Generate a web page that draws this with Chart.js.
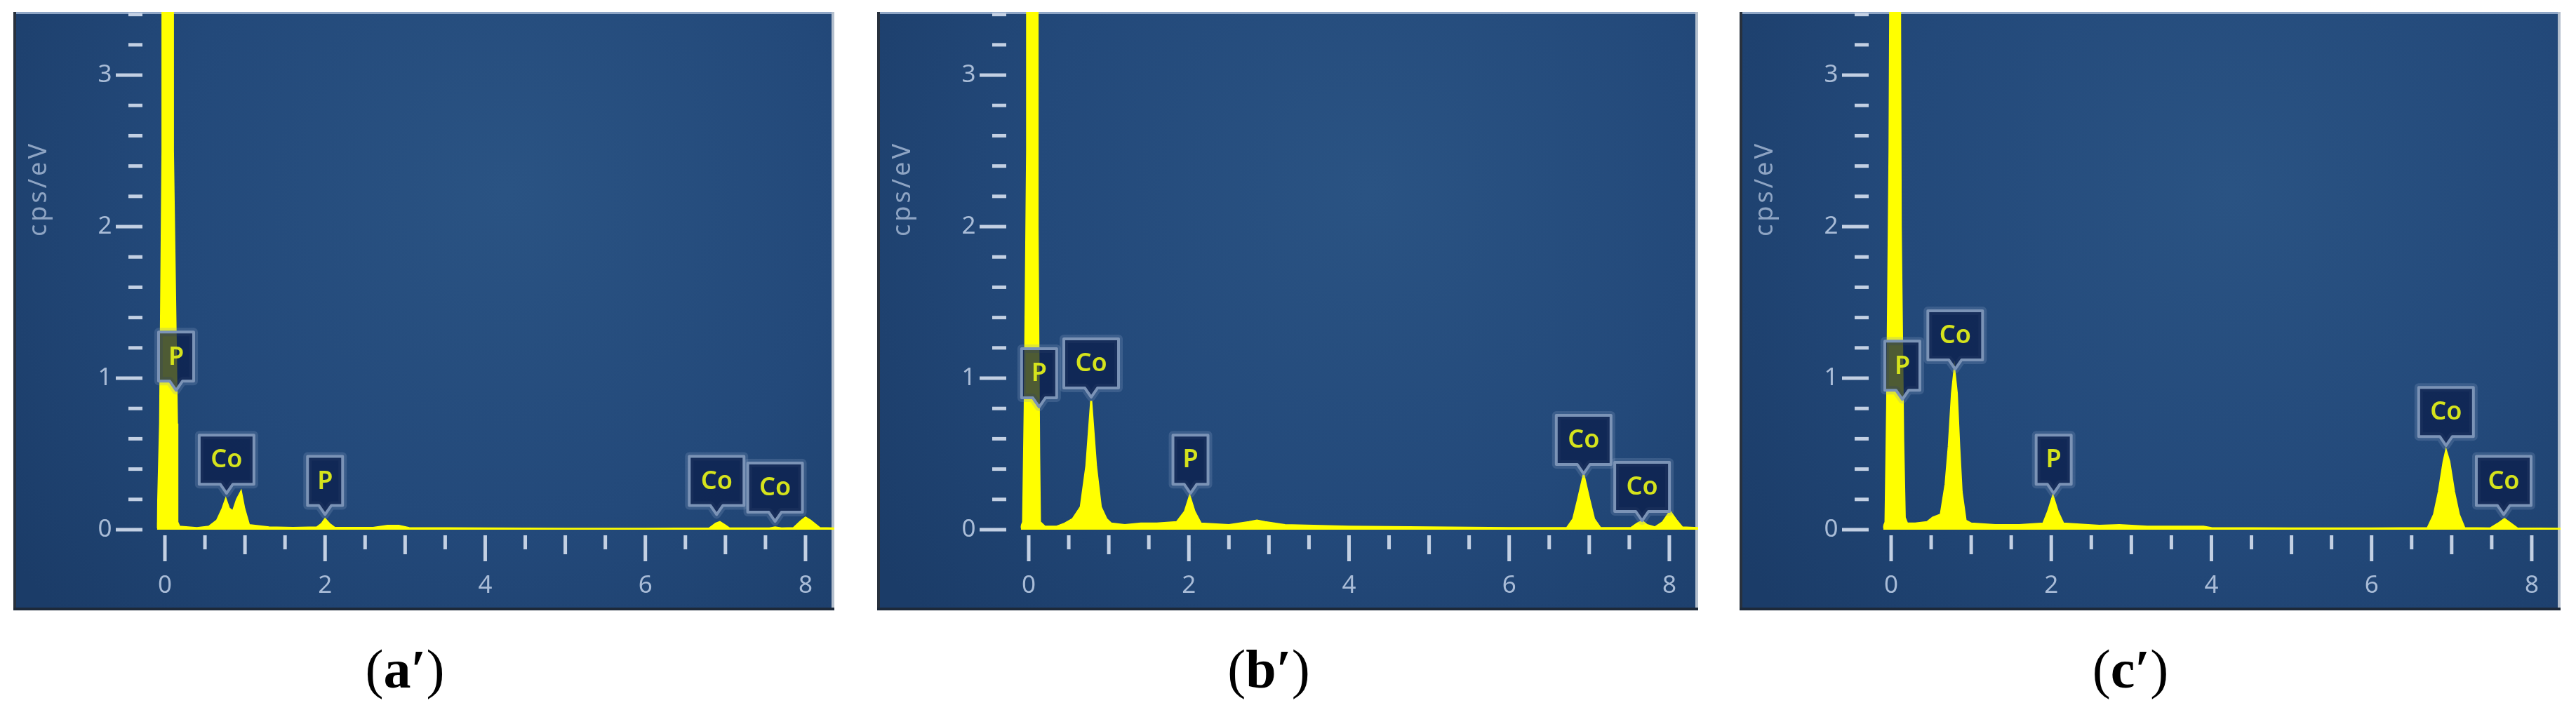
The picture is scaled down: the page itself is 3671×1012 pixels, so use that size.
<!DOCTYPE html>
<html><head><meta charset="utf-8">
<script src="https://cdn.jsdelivr.net/npm/chart.js@4.4.1/dist/chart.umd.min.js"></script>
<style>
html,body{margin:0;padding:0;background:#fff;width:3671px;height:1012px;overflow:hidden;}
.panel{position:absolute;top:17px;width:1170px;height:853px;}
.cap{position:absolute;top:915px;width:300px;text-align:center;font-family:"Liberation Serif","Times New Roman",serif;font-size:78px;line-height:1;color:#000;}
</style></head><body>
<div class="panel" style="left:19px"><canvas id="ca" width="1170" height="853"></canvas></div>
<div class="panel" style="left:1250px"><canvas id="cb" width="1170" height="853"></canvas></div>
<div class="panel" style="left:2479px"><canvas id="cc" width="1170" height="853"></canvas></div>
<div class="cap" id="capA" style="left:427px"></div>
<div class="cap" id="capB" style="left:1658px"></div>
<div class="cap" id="capC" style="left:2886px"></div>
<script>
// ---- data ----
const xTickLabels = [0, 2, 4, 6, 8];
const yTickLabels = [0, 1, 2, 3];
const xRange = [-0.1, 8.36];
const yRange = [0, 3.417];
const yTitle = 'cps/eV';
const captionLetters = ['a', 'b', 'c'];

// [energy keV, cps/eV]
const spectrumA = [[-0.10,0.01],[-0.09,0.05],[-0.06,0.7],[-0.03,2.5],[-0.03,3.6],[0.10,3.6],[0.10,2.5],[0.15,0.7],[0.155,0.05],[0.18,0.02],
 [0.40,0.01],[0.55,0.02],[0.65,0.06],[0.72,0.14],[0.76,0.20],[0.80,0.14],[0.85,0.12],[0.90,0.20],[0.95,0.25],[0.99,0.14],[1.05,0.03],
 [1.30,0.015],[1.60,0.012],[1.90,0.015],[1.96,0.04],[2.00,0.07],[2.05,0.04],[2.12,0.012],
 [2.60,0.012],[2.78,0.025],[2.92,0.025],[3.05,0.01],
 [4.00,0.008],[5.00,0.006],[6.00,0.006],[6.80,0.008],[6.88,0.04],[6.93,0.05],[6.99,0.03],[7.05,0.008],
 [7.55,0.008],[7.62,0.015],[7.70,0.008],[7.85,0.01],[7.95,0.06],[8.00,0.08],[8.06,0.06],[8.18,0.01],[8.36,0.008]];
const spectrumB = [[-0.10,0.01],[-0.07,0.05],[-0.05,0.8],[-0.02,2.5],[-0.02,3.6],[0.11,3.6],[0.11,2.0],[0.13,0.5],[0.14,0.05],[0.20,0.02],
 [0.35,0.02],[0.45,0.04],[0.55,0.07],[0.65,0.15],[0.72,0.42],[0.78,0.85],[0.84,0.42],[0.90,0.15],[0.97,0.07],[1.03,0.04],
 [1.20,0.03],[1.40,0.04],[1.60,0.04],[1.85,0.05],[1.95,0.12],[2.01,0.22],[2.07,0.12],[2.15,0.04],
 [2.50,0.03],[2.75,0.05],[2.85,0.06],[2.95,0.05],[3.20,0.03],[4.00,0.02],[5.00,0.015],[6.00,0.01],
 [6.72,0.01],[6.80,0.07],[6.86,0.20],[6.93,0.36],[7.00,0.20],[7.06,0.07],[7.14,0.01],
 [7.52,0.01],[7.60,0.04],[7.66,0.055],[7.72,0.03],[7.82,0.015],[7.92,0.05],[8.01,0.12],[8.09,0.06],[8.16,0.015],[8.36,0.01]];
const spectrumC = [[-0.10,0.01],[-0.07,0.05],[-0.05,0.8],[-0.02,2.5],[-0.01,3.6],[0.11,3.6],[0.12,2.0],[0.15,0.6],[0.17,0.08],[0.20,0.04],
 [0.30,0.04],[0.45,0.05],[0.52,0.08],[0.62,0.10],[0.68,0.30],[0.72,0.55],[0.76,0.90],[0.79,1.05],[0.82,0.90],[0.85,0.55],[0.88,0.25],[0.93,0.06],[1.00,0.04],
 [1.30,0.03],[1.60,0.03],[1.90,0.04],[1.96,0.12],[2.02,0.22],[2.08,0.12],[2.15,0.04],
 [2.60,0.025],[2.85,0.03],[3.20,0.02],[3.90,0.02],[4.00,0.01],[5.00,0.008],[6.00,0.008],
 [6.70,0.01],[6.78,0.10],[6.84,0.25],[6.90,0.45],[6.93,0.52],[6.97,0.45],[7.03,0.25],[7.09,0.10],[7.16,0.01],
 [7.48,0.008],[7.58,0.04],[7.66,0.07],[7.74,0.04],[7.82,0.008],[8.36,0.006]];

// peak markers: [element, energy keV, cps/eV at pointer tip]
const peaksA = [['P',0.14,0.92],['Co',0.77,0.24],['P',2.00,0.10],['Co',6.89,0.10],['Co',7.62,0.055]];
const peaksB = [['P',0.13,0.81],['Co',0.78,0.875],['P',2.02,0.24],['Co',6.93,0.37],['Co',7.66,0.06]];
const peaksC = [['P',0.14,0.86],['Co',0.80,1.06],['P',2.03,0.24],['Co',6.93,0.555],['Co',7.65,0.10]];

// ---- drawing ----
const tickColor = '#c3d0e3';
const labelColor = '#a9bcd7';

const decor = {
  id: 'decor',
  beforeDraw(chart) {
    const {ctx, width, height} = chart;
    ctx.save();
    const g = ctx.createRadialGradient(width*0.6, height*0.3, 0, width*0.6, height*0.3, width*0.75);
    g.addColorStop(0, '#2a5383');
    g.addColorStop(0.55, '#23497a');
    g.addColorStop(1, '#1b3c68');
    ctx.fillStyle = g;
    ctx.fillRect(0, 0, width, height);
    ctx.fillStyle = '#8fa6c6'; ctx.fillRect(0, 0, width, 3);
    ctx.fillStyle = '#b4bfcd'; ctx.fillRect(width-4, 0, 4, height);
    ctx.fillStyle = '#28313d'; ctx.fillRect(0, 0, 4, height);
    ctx.fillStyle = '#1d2939'; ctx.fillRect(0, height-4, width, 4);
    ctx.restore();
  },
  afterDatasetsDraw(chart, args, opts) {
    const {ctx} = chart;
    const xs = chart.scales.x, ys = chart.scales.y, ca = chart.chartArea;
    ctx.save();
    ctx.fillStyle = tickColor;
    for (let i = 0; i <= 16; i++) {
      const px = xs.getPixelForValue(i/2);
      const len = (i % 4 === 0) ? 37 : (i % 2 === 0 ? 27 : 20);
      ctx.fillRect(px-2.5, ca.bottom+8, 5, len);
    }
    for (let i = 0; i <= 17; i++) {
      const py = ys.getPixelForValue(i*0.2);
      if (i % 5 === 0) ctx.fillRect(146, py-2.5, 38, 5);
      else ctx.fillRect(164, py-2.5, 20, 5);
    }
    // y title
    ctx.save();
    ctx.translate(37, 252);
    ctx.rotate(-Math.PI/2);
    ctx.fillStyle = '#8ea4c3';
    ctx.font = '36px "Noto Sans"';
    try { ctx.letterSpacing = '4px'; } catch(e) {}
    ctx.textAlign = 'center';
    ctx.textBaseline = 'middle';
    ctx.fillText(yTitle, 0, 0);
    ctx.restore();
    // peak markers
    for (const [el, e, v] of opts.peaks) {
      const tx = xs.getPixelForValue(e), ty = ys.getPixelForValue(v);
      const w = el.length > 1 ? 78 : 50, h = 70, p = 13;
      const bot = ty - p, top = bot - h, l = tx - w/2, r = tx + w/2;
      ctx.beginPath();
      ctx.moveTo(l, top); ctx.lineTo(r, top); ctx.lineTo(r, bot);
      ctx.lineTo(tx+9, bot); ctx.lineTo(tx, ty); ctx.lineTo(tx-9, bot);
      ctx.lineTo(l, bot); ctx.closePath();
      ctx.lineJoin = 'round';
      ctx.strokeStyle = 'rgba(130,155,190,0.25)'; ctx.lineWidth = 12; ctx.stroke();
      ctx.fillStyle = 'rgba(10,28,72,0.72)'; ctx.fill();
      ctx.strokeStyle = '#7b93b6'; ctx.lineWidth = 4; ctx.stroke();
      ctx.fillStyle = '#d5e31c';
      ctx.font = '600 36px "Noto Sans"';
      ctx.textAlign = 'center'; ctx.textBaseline = 'middle';
      ctx.fillText(el, tx, (top+bot)/2 + 1);
    }
    ctx.restore();
  }
};

function makeChart(id, spectrum, peaks) {
  return new Chart(document.getElementById(id), {
    type: 'line',
    data: {datasets: [{
      data: spectrum.map(([x, y]) => ({x, y})),
      borderColor: '#ffff00', backgroundColor: '#ffff00',
      borderWidth: 3, fill: 'origin', pointRadius: 0, tension: 0
    }]},
    options: {
      responsive: false, animation: false, devicePixelRatio: 1,
      layout: {padding: 0},
      plugins: {legend: {display: false}, tooltip: {enabled: false}, decor: {peaks}},
      scales: {
        x: {
          type: 'linear', min: xRange[0], max: xRange[1],
          afterFit(s) { s.height = 115; s.paddingLeft = 0; s.paddingRight = 0; s.paddingTop = 0; s.paddingBottom = 0; },
          afterBuildTicks(s) { s.ticks = xTickLabels.map(v => ({value: v})); },
          grid: {display: false, drawTicks: false}, border: {display: false},
          ticks: {autoSkip: false, maxRotation: 0, padding: 59, color: labelColor,
                  font: {family: 'Noto Sans', size: 35}, callback: v => String(v)}
        },
        y: {
          type: 'linear', min: yRange[0], max: yRange[1],
          afterFit(s) { s.width = 204.6; s.paddingTop = 0; s.paddingBottom = 0; s.paddingLeft = 0; s.paddingRight = 0; },
          afterBuildTicks(s) { s.ticks = yTickLabels.map(v => ({value: v})); },
          grid: {display: false, drawTicks: false}, border: {display: false},
          ticks: {padding: 64, color: labelColor, font: {family: 'Noto Sans', size: 35},
                  callback: v => String(v)}
        }
      }
    },
    plugins: [decor]
  });
}
makeChart('ca', spectrumA, peaksA);
makeChart('cb', spectrumB, peaksB);
makeChart('cc', spectrumC, peaksC);

['capA','capB','capC'].forEach((id, i) => {
  const d = document.getElementById(id);
  d.innerHTML = '(<b>' + captionLetters[i] + '\u2032</b>)';
});
</script>
</body></html>
